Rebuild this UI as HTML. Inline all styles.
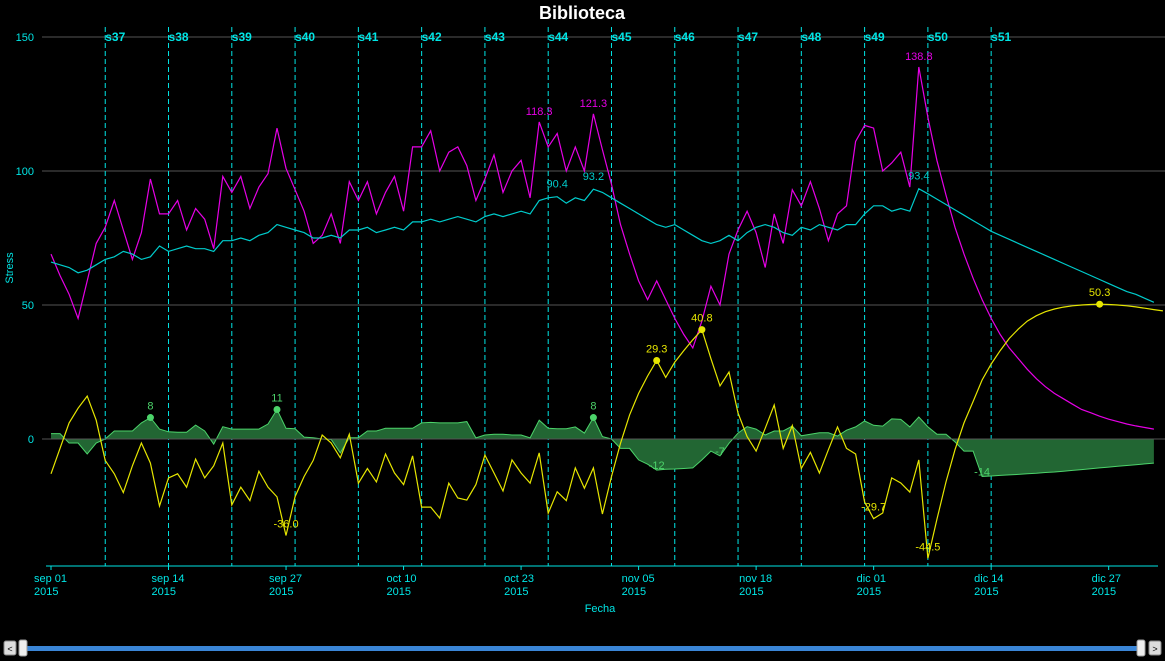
<!DOCTYPE html>
<html><head><meta charset="utf-8"><style>
html,body{margin:0;padding:0;background:#000;width:1165px;height:661px;overflow:hidden}
svg{display:block;font-family:"Liberation Sans",sans-serif}
</style></head><body>
<svg id="chart" width="1165" height="661" viewBox="0 0 1165 661" xmlns="http://www.w3.org/2000/svg">
<rect x="0" y="0" width="1165" height="661" fill="#000"/>
<text x="582" y="19" text-anchor="middle" fill="#fff" font-size="18" font-weight="bold">Biblioteca</text>
<text transform="translate(13,268) rotate(-90)" text-anchor="middle" fill="#00e5e5" font-size="11">Stress</text>
<text x="600" y="612" text-anchor="middle" fill="#00e5e5" font-size="11">Fecha</text>
<g id="grid"></g><g id="weeks"></g><g id="series"></g><g id="xaxis"></g>
<g>
<rect x="27" y="646" width="1111" height="5" fill="#3a85d6"/>
<rect x="4" y="641" width="12" height="14" rx="2" fill="#ddd" stroke="#888"/>
<text x="10" y="652" text-anchor="middle" font-size="9" fill="#000">&lt;</text>
<rect x="19" y="640" width="8" height="16" rx="2" fill="#eee" stroke="#999"/>
<rect x="1137" y="640" width="8" height="16" rx="2" fill="#eee" stroke="#999"/>
<rect x="1149" y="641" width="12" height="14" rx="2" fill="#ddd" stroke="#888"/>
<text x="1155" y="652" text-anchor="middle" font-size="9" fill="#000">&gt;</text>
</g>
</svg>
<script>
const magenta=[69,61,54,45,59,73,79,89,78,67,77,97,84,84,89,78,86,82,71,98,92,98,86,94,99,116,101,93,85,73,76,84,73,96,89,96,84,92,98,85,109,109,115,100,107,109,102,89,97,106,92,100,104,90,118.3,109,114,100,109,100,121.3,108,95,80,69,59,52,59,52,45,39,34,44,57,50,69,78,85,77,64,84,73,93,87,96,86,74,84,87,111,117,116,100,103,107,94,138.8,120,104,91,79,69,60,52,45,39,34,30,26,22.5,19.5,17,15,13,11,9.8,8.5,7.4,6.5,5.6,4.9,4.3,3.7];
const cyan=[66,65,64,62,63,65,67,68,70,69,67,68,72,70,71,72,71,71,70,74,74,75,74,76,77,80,79,78,77,75,75,76,75,78,78,79,77,78,79,78,81,81,82,81,82,83,82,81,83,84,83,84,85,84,89,90,90.4,88,90,89,93.2,92,90,88,86,84,82,80,79,80,78,76,74,73,74,76,74,77,79,80,79,77,76,79,78,80,79,78,80,80,84,87,87,85,86,85,93.4,91.5,89.5,87.5,85.5,83.5,81.5,79.5,77.5,76,74.5,73,71.5,70,68.5,67,65.5,64,62.5,61,59.5,58,56.5,55,54,52.5,51];
const yellow=[-13,-3.5,6,11.5,16,7,-8,-13,-20,-10,-1.5,-9,-25,-14.5,-13,-18,-7.5,-14.5,-10,-1.5,-24.6,-18,-23,-12,-18,-21.6,-36,-21.5,-14,-8,1.5,-1.5,-7,1.8,-16.5,-11,-16,-5.6,-12.7,-17,-6.3,-25.4,-25.4,-29.5,-16.5,-22,-22.8,-17,-6,-12.7,-19.4,-7.8,-12.7,-16.5,-5.2,-27.7,-19.7,-23,-10.8,-18.4,-10.8,-28,-14,-1.6,9,17,23.5,29.3,23,28.7,33,37,40.8,30,19.8,25,9.7,0.9,-4.5,4,12.7,-3.5,5,-11,-5,-12.7,-4,4.5,-3.5,-5.6,-23.5,-29.7,-27.6,-14.5,-16.4,-19.8,-7.8,-44.5,-30,-16,-4,6,14,22,28,33,37.5,41,44,46,47.5,48.5,49.2,49.7,50,50.2,50.3,50.2,50,49.7,49.3,48.8,48.3,47.8];
const green=[2,2,-1.5,-1.5,-5.6,-1.5,0,3,3,3,6,8,3.7,2.7,2.5,2.5,5.2,3,-1.9,4.6,3.7,3.7,3.7,3.7,5.6,11,4,3.8,0.7,0.5,0,-0.2,-5.2,0.5,0.5,3,3,4,4,4,4,6,6.2,6,6,6,6.5,0.4,1.5,1.8,1.8,1.5,1.5,0.4,7,4,3.8,3.8,4.5,2.2,8,0.9,0,-3.5,-3.5,-7.8,-9.4,-11.6,-11.3,-11.2,-11,-10.8,-7.8,-4.5,-6.3,-1.6,2.2,4.6,3.7,1.5,3,3,4.8,1.2,1.8,2.3,2.3,1.1,3.3,4.5,6.7,5.1,4.8,7.5,7.3,4.5,8.2,4.5,1.8,1.8,-1.1,-4.5,-4.5,-14,-13.8,-13.6,-13.4,-13.2,-13,-12.8,-12.5,-12.3,-12,-11.7,-11.4,-11.1,-10.8,-10.5,-10.2,-9.9,-9.6,-9.3,-9];
const yTicks=[0,50,100,150];
const xTickDays=[0,13,26,39,52,65,78,91,104,117];
const xTickLabels=["sep 01","sep 14","sep 27","oct 10","oct 23","nov 05","nov 18","dic 01","dic 14","dic 27"];
const weekDays=[6,13,20,27,34,41,48,55,62,69,76,83,90,97,104];
const weekLabels=["s37","s38","s39","s40","s41","s42","s43","s44","s45","s46","s47","s48","s49","s50","s51"];
const magentaLabels=[54,60,96];
const magentaLabelText=["118.3","121.3","138.8"];
const cyanLabels=[56,60,96];
const cyanLabelText=["90.4","93.2","93.4"];
const yellowDots=[67,72,116];
const yellowDotText=["29.3","40.8","50.3"];
const yellowLabels=[26,91,97];
const yellowLabelText=["-36.0","-29.7","-44.5"];
const greenDots=[11,25,60];
const greenDotText=["8","11","8"];
const greenLabels=[67,74,103];
const greenLabelText=["-12","-7","-14"];

const NS="http://www.w3.org/2000/svg";
const X=d=>51+9.04*d;
const Y=v=>439-2.68*v;
function mk(tag,attrs,parent){const e=document.createElementNS(NS,tag);for(const k in attrs)e.setAttribute(k,attrs[k]);parent.appendChild(e);return e;}
const grid=document.getElementById('grid'),weeks=document.getElementById('weeks'),ser=document.getElementById('series'),xa=document.getElementById('xaxis');

yTicks.forEach(v=>{
 const l=mk('line',{x1:42,x2:1165,y1:Y(v),y2:Y(v),stroke:'#555','stroke-width':1},grid);
 
 
 const t=mk('text',{x:34,y:Y(v)+4,'text-anchor':'end',fill:'#00e5e5','font-size':11},grid);
 t.textContent=v;
 
 
});
weekDays.forEach((d,i)=>{
 const l=mk('line',{x1:X(d),x2:X(d),y1:27,y2:566,stroke:'#00e5e5','stroke-width':1,'stroke-dasharray':'5,3'},weeks);
 
 
 const t=mk('text',{x:X(d),y:41,fill:'#00e5e5','font-size':12,'font-weight':'bold'},weeks);
 t.textContent=weekLabels[i];
 
 
});
function pts(arr){return arr.map((v,i)=>X(i).toFixed(1)+','+Y(v).toFixed(1)).join(' ');}
const area=mk('polygon',{points:X(0)+','+Y(0)+' '+pts(green)+' '+X(green.length-1)+','+Y(0),fill:'#226633'},ser);


const gl=mk('polyline',{points:pts(green),fill:'none',stroke:'#4cd36a','stroke-width':1},ser);


const zl=mk('line',{x1:42,x2:1165,y1:Y(0),y2:Y(0),stroke:'#555'},ser);


[[magenta,'#e600e6','atl-line'],[cyan,'#00cccc','ctl-line'],[yellow,'#e6e600','tsb-line']].forEach(s=>{
 const p=mk('polyline',{points:pts(s[0]),fill:'none',stroke:s[1],'stroke-width':1.2},ser);
 
 
});
function label(arr,d,color,dy,txt){
 const t=mk('text',{x:X(d),y:Y(arr[d])+dy,'text-anchor':'middle',fill:color,'font-size':11},ser);
 t.textContent=txt;
 
 
}
function dot(arr,d,color){
 const c=mk('circle',{cx:X(d),cy:Y(arr[d]),r:3.5,fill:color},ser);
 
 
}
magentaLabels.forEach((d,i)=>label(magenta,d,'#e600e6',-7,magentaLabelText[i]));
cyanLabels.forEach((d,i)=>label(cyan,d,'#00cccc',-9,cyanLabelText[i]));
yellowDots.forEach((d,i)=>{dot(yellow,d,'#e6e600');label(yellow,d,'#e6e600',-8,yellowDotText[i]);});
yellowLabels.forEach((d,i)=>label(yellow,d,'#e6e600',-8,yellowLabelText[i]));
greenDots.forEach((d,i)=>{dot(green,d,'#4cd36a');label(green,d,'#4cd36a',-8,greenDotText[i]);});
greenLabels.forEach((d,i)=>label(green,d,'#4cd36a',-1,greenLabelText[i]));
const ax=mk('line',{x1:46,x2:1158,y1:566,y2:566,stroke:'#00e5e5'},xa);


xTickDays.forEach((d,i)=>{
 const tk=mk('line',{x1:X(d),x2:X(d),y1:566,y2:570,stroke:'#00e5e5'},xa);
 
 
 const t=mk('text',{x:X(d)-17,y:582,fill:'#00e5e5','font-size':11},xa);
 t.textContent=xTickLabels[i];
 
 
 const t2=mk('text',{x:X(d)-17,y:595,fill:'#00e5e5','font-size':11},xa);
 t2.textContent='2015';
 
 
});
</script>
</body></html>
